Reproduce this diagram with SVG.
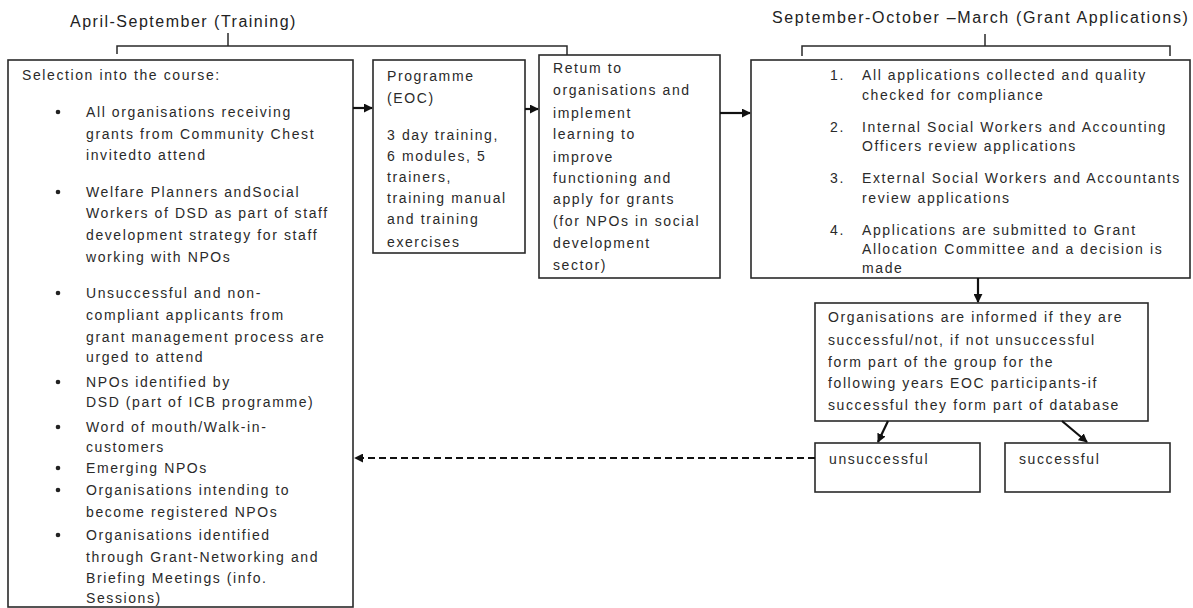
<svg xmlns="http://www.w3.org/2000/svg" width="1193" height="608" viewBox="0 0 1193 608">
<style>
.box{fill:#fff;stroke:#2a2a2a;stroke-width:1.6}
.t{font-family:"Liberation Sans",Arial,sans-serif;font-size:14px;letter-spacing:1.6px;fill:#2a2a2a}
.h{font-family:"Liberation Sans",Arial,sans-serif;font-size:16px;letter-spacing:1.5px;fill:#222}
.br{fill:none;stroke:#2a2a2a;stroke-width:1.5}
.ar{fill:none;stroke:#111;stroke-width:2.2}
.da{fill:none;stroke:#111;stroke-width:2.2;stroke-dasharray:7 4}
.bul{fill:#222}
</style>
<defs>
<marker id="ah" viewBox="0 0 10 10" refX="9" refY="5" markerWidth="9" markerHeight="9" markerUnits="userSpaceOnUse" orient="auto">
<path d="M0,0 L10,5 L0,10 z" fill="#111"/>
</marker>
</defs>
<rect width="1193" height="608" fill="#fff"/>

<g id="header-training">
<text class="h" x="70" y="27">April-September (Training)</text>
<path class="br" d="M228,33 V46 M117,54 V46 H567 V55"/>
</g>

<g id="header-grants">
<text class="h" x="772" y="23" style="letter-spacing:1.65px">September-October –March (Grant Applications)</text>
<path class="br" d="M985,34 V46 M802,56 V46 H1170 V56"/>
</g>

<g id="selection">
<rect class="box" x="8" y="60" width="345" height="547"/>
<text class="t" x="22" y="80">Selection into the course:</text>
<circle class="bul" cx="58" cy="112" r="2.3"/>
<text class="t" x="86" y="117">All organisations receiving</text>
<text class="t" x="86" y="139">grants from Community Chest</text>
<text class="t" x="86" y="160">invitedto attend</text>
<circle class="bul" cx="58" cy="192" r="2.3"/>
<text class="t" x="86" y="197">Welfare Planners andSocial</text>
<text class="t" x="86" y="218">Workers of DSD as part of staff</text>
<text class="t" x="86" y="240">development strategy for staff</text>
<text class="t" x="86" y="262">working with NPOs</text>
<circle class="bul" cx="58" cy="293" r="2.3"/>
<text class="t" x="86" y="298">Unsuccessful and non-</text>
<text class="t" x="86" y="320">compliant applicants from</text>
<text class="t" x="86" y="342">grant management process are</text>
<text class="t" x="86" y="362">urged to attend</text>
<circle class="bul" cx="58" cy="382" r="2.3"/>
<text class="t" x="86" y="387">NPOs identified by</text>
<text class="t" x="86" y="407">DSD (part of ICB programme)</text>
<circle class="bul" cx="58" cy="427" r="2.3"/>
<text class="t" x="86" y="432">Word of mouth/Walk-in-</text>
<text class="t" x="86" y="452">customers</text>
<circle class="bul" cx="58" cy="468" r="2.3"/>
<text class="t" x="86" y="473">Emerging NPOs</text>
<circle class="bul" cx="58" cy="490" r="2.3"/>
<text class="t" x="86" y="495">Organisations intending to</text>
<text class="t" x="86" y="517">become registered NPOs</text>
<circle class="bul" cx="58" cy="535" r="2.3"/>
<text class="t" x="86" y="540">Organisations identified</text>
<text class="t" x="86" y="562">through Grant-Networking and</text>
<text class="t" x="86" y="583">Briefing Meetings (info.</text>
<text class="t" x="86" y="603">Sessions)</text>
</g>

<g id="programme">
<rect class="box" x="373" y="60" width="152" height="193"/>
<text class="t" x="387" y="81">Programme</text>
<text class="t" x="387" y="103">(EOC)</text>
<text class="t" x="387" y="140">3 day training,</text>
<text class="t" x="387" y="161">6 modules, 5</text>
<text class="t" x="387" y="182">trainers,</text>
<text class="t" x="387" y="203">training manual</text>
<text class="t" x="387" y="224">and training</text>
<text class="t" x="387" y="247">exercises</text>
</g>

<g id="return">
<rect class="box" x="539" y="55" width="181" height="223"/>
<text class="t" x="553" y="73">Retum to</text>
<text class="t" x="553" y="95">organisations and</text>
<text class="t" x="553" y="118">implement</text>
<text class="t" x="553" y="139">learning to</text>
<text class="t" x="553" y="162">improve</text>
<text class="t" x="553" y="183">functioning and</text>
<text class="t" x="553" y="204">apply for grants</text>
<text class="t" x="553" y="226">(for NPOs in social</text>
<text class="t" x="553" y="248">development</text>
<text class="t" x="553" y="270">sector)</text>
</g>

<g id="applications">
<rect class="box" x="751" y="60" width="439" height="218"/>
<text class="t" x="830" y="80">1.</text>
<text class="t" x="862" y="80">All applications collected and quality</text>
<text class="t" x="862" y="100">checked for compliance</text>
<text class="t" x="830" y="132">2.</text>
<text class="t" x="862" y="132">Internal Social Workers and Accounting</text>
<text class="t" x="862" y="151">Officers review applications</text>
<text class="t" x="830" y="183">3.</text>
<text class="t" x="862" y="183">External Social Workers and Accountants</text>
<text class="t" x="862" y="203">review applications</text>
<text class="t" x="830" y="235">4.</text>
<text class="t" x="862" y="235">Applications are submitted to Grant</text>
<text class="t" x="862" y="254">Allocation Committee and a decision is</text>
<text class="t" x="862" y="273">made</text>
</g>

<g id="informed">
<rect class="box" x="815" y="303" width="333" height="118"/>
<text class="t" x="828" y="322">Organisations are informed if they are</text>
<text class="t" x="828" y="345">successful/not, if not unsuccessful</text>
<text class="t" x="828" y="367">form part of the group for the</text>
<text class="t" x="828" y="388">following years EOC participants-if</text>
<text class="t" x="828" y="410">successful they form part of database</text>
</g>

<g id="unsuccessful">
<rect class="box" x="815" y="443" width="165" height="49"/>
<text class="t" x="829" y="464">unsuccessful</text>
</g>

<g id="successful">
<rect class="box" x="1005" y="443" width="165" height="49"/>
<text class="t" x="1019" y="464">successful</text>
</g>

<g id="connectors">
<line class="ar" x1="353" y1="108" x2="372" y2="108" marker-end="url(#ah)"/>
<line class="ar" x1="525" y1="109" x2="538" y2="109" marker-end="url(#ah)"/>
<line class="ar" x1="720" y1="113" x2="750" y2="113" marker-end="url(#ah)"/>
<line class="ar" x1="978" y1="278" x2="978" y2="302" marker-end="url(#ah)"/>
<line class="ar" x1="888" y1="421" x2="878" y2="442" marker-end="url(#ah)"/>
<line class="ar" x1="1062" y1="421" x2="1087" y2="442" marker-end="url(#ah)"/>
<line class="da" x1="815" y1="458" x2="355" y2="458" marker-end="url(#ah)"/>
</g>
</svg>
